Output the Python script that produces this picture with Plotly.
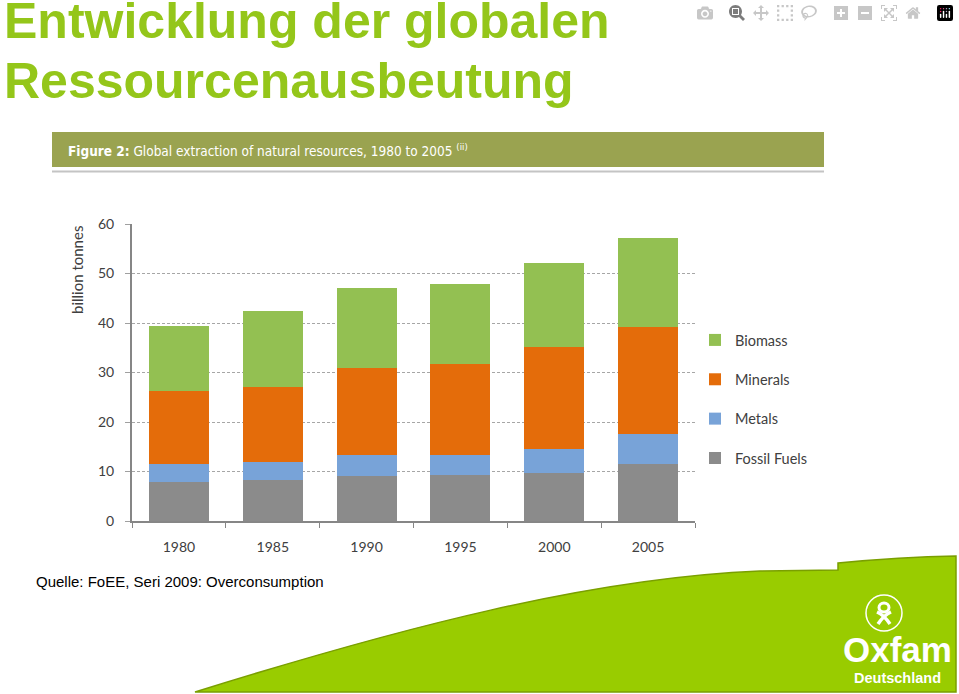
import plotly.graph_objects as go

# ---------------- data ----------------
years = ["1980", "1985", "1990", "1995", "2000", "2005"]
fossil_fuels = [7.9, 8.3, 9.1, 9.2, 9.7, 11.6]
metals = [3.7, 3.7, 4.3, 4.2, 4.9, 5.9]
minerals = [14.7, 15.0, 17.5, 18.4, 20.6, 21.6]
biomass = [13.1, 15.4, 16.1, 16.1, 16.9, 18.0]
series_names = ["Fossil Fuels", "Metals", "Minerals", "Biomass"]
legend_ranks = [4, 3, 2, 1]
y_ticks = [0, 10, 20, 30, 40, 50, 60]

title_lines = ["Entwicklung der globalen", "Ressourcenausbeutung"]
header_text = "<b>Figure 2:</b> Global extraction of natural resources, 1980 to 2005 <sup>(ii)</sup>"
y_title = "billion tonnes"
source_text = "Quelle: FoEE, Seri 2009: Overconsumption"
logo_lines = ["Oxfam", "Deutschland"]

# ---------------- styling ----------------
W, H = 959, 694
colors = ["#8b8b8b", "#78a3d8", "#e46c0a", "#93c052"]
GREEN = "#99cc00"
TITLE_GREEN = "#94c61a"
TXT = "#404040"
CHART_FONT = "Lato"


def px(x):
    return x / W


def py(y):
    return 1 - y / H


def path(cmds):
    out = []
    for c in cmds:
        if c == "Z":
            out.append("Z")
            continue
        letter, pts = c[0], c[1:]
        out.append(letter + " ".join(f"{px(x):.5f},{py(y):.5f}" for x, y in pts))
    return " ".join(out)


fig = go.Figure()
for name, vals, col, rank in zip(series_names, [fossil_fuels, metals, minerals, biomass], colors, legend_ranks):
    fig.add_trace(go.Bar(
        x=years, y=vals, name=name, marker=dict(color=col, line=dict(width=0)),
        legendgroup=name, legendrank=rank,
    ))

shapes = []
shapes.append(dict(type="rect", xref="paper", yref="paper", x0=px(52), x1=px(824),
                   y0=py(167), y1=py(132), fillcolor="#9aa350", line=dict(width=0), layer="below"))
shapes.append(dict(type="line", xref="paper", yref="paper", x0=px(52), x1=px(824),
                   y0=py(171.5), y1=py(171.5), line=dict(color="#c4c4c4", width=2), layer="below"))

swoosh = path([
    ("M", (195, 692)),
    ("C", (400, 628), (590, 578), (760, 571)),
    ("L", (838, 570)),
    ("L", (838, 563)),
    ("Q", (900, 557), (956, 556)),
    ("L", (956, 692)),
    "Z",
])
shapes.append(dict(type="path", xref="paper", yref="paper", path=swoosh,
                   fillcolor=GREEN, line=dict(color="#7a9f00", width=1.5), layer="below"))

cx, cy, r = 884, 613, 18
shapes.append(dict(type="circle", xref="paper", yref="paper", x0=px(cx - r), x1=px(cx + r),
                   y0=py(cy + r), y1=py(cy - r), line=dict(color="white", width=1.5)))
shapes.append(dict(type="circle", xref="paper", yref="paper", x0=px(cx - 5), x1=px(cx + 5),
                   y0=py(cy - 1), y1=py(cy - 10), line=dict(color="white", width=3)))
shapes.append(dict(type="path", xref="paper", yref="paper",
                   path=path([("M", (cx - 7, cy - 1)), ("Q", (cx, cy + 2), (cx + 6, cy + 11))]),
                   line=dict(color="white", width=3.5)))
shapes.append(dict(type="path", xref="paper", yref="paper",
                   path=path([("M", (cx + 7, cy - 1)), ("Q", (cx, cy + 2), (cx - 6, cy + 11))]),
                   line=dict(color="white", width=3.5)))

TITLE_FONT = dict(family="Liberation Sans, Arial", size=50, color=TITLE_GREEN, weight="bold")
annotations = [
    dict(text=title_lines[0], x=px(2), y=py(21), xref="paper", yref="paper", xanchor="left",
         yanchor="middle", showarrow=False, font=TITLE_FONT),
    dict(text=title_lines[1], x=px(2), y=py(81), xref="paper", yref="paper", xanchor="left",
         yanchor="middle", showarrow=False, font=TITLE_FONT),
    dict(text=header_text, x=px(66), y=py(150), xref="paper", yref="paper", xanchor="left",
         yanchor="middle", showarrow=False,
         font=dict(family="DejaVu Sans Condensed, DejaVu Sans", size=13.5, color="white")),
    dict(text=y_title, x=px(77), y=py(270), xref="paper", yref="paper", xanchor="center",
         yanchor="middle", showarrow=False, textangle=-90,
         font=dict(family=CHART_FONT, size=15, color=TXT)),
    dict(text=source_text, x=px(34), y=py(581), xref="paper", yref="paper", xanchor="left",
         yanchor="middle", showarrow=False,
         font=dict(family="Liberation Sans, Arial", size=15, color="black")),
    dict(text=logo_lines[0], x=px(897), y=py(649.5), xref="paper", yref="paper", xanchor="center",
         yanchor="middle", showarrow=False, borderpad=0,
         font=dict(family="Liberation Sans, Arial", size=35, color="white", weight="bold")),
    dict(text=logo_lines[1], x=px(897), y=py(677.5), xref="paper", yref="paper", xanchor="center",
         yanchor="middle", showarrow=False, borderpad=0,
         font=dict(family="Liberation Sans, Arial", size=14.5, color="white", weight="bold")),
]

fig.update_layout(
    width=W, height=H,
    margin=dict(l=0, r=0, t=0, b=0, autoexpand=False),
    paper_bgcolor="white", plot_bgcolor="white",
    barmode="stack", bargap=0.36,
    font=dict(family=CHART_FONT, size=14, color=TXT),
    shapes=shapes, annotations=annotations,
    showlegend=True,
    legend=dict(x=px(695), y=py(324), xanchor="left", yanchor="top",
                traceorder="grouped", tracegroupgap=17.5,
                font=dict(family=CHART_FONT, size=14.5, color=TXT),
                bgcolor="rgba(0,0,0,0)"),
    xaxis=dict(domain=[px(132), px(695)], type="category", automargin=False,
               showline=True, linecolor="#868686", linewidth=1.5,
               ticks="outside", tickson="boundaries", ticklen=5, tickcolor="#868686",
               ticklabelstandoff=12, showgrid=False,
               tickfont=dict(family=CHART_FONT, size=14, color=TXT)),
    yaxis=dict(domain=[py(521), py(224)], range=[0, 60], tickvals=y_ticks, automargin=False,
               showline=True, linecolor="#868686", linewidth=2,
               ticks="outside", ticklen=5, tickcolor="#a0a0a0",
               showgrid=True, gridcolor="#a6a6a6", gridwidth=1, griddash="3px,2px",
               zeroline=False, ticklabelstandoff=8,
               tickfont=dict(family=CHART_FONT, size=14, color=TXT)),
)

fig.write_html(
    "out.html",
    post_script=(
        "document.body.style.margin='0';"
        "var d=document.getElementById('{plot_id}');"
        "d.style.position='fixed';d.style.top='0px';d.style.left='0px';"
    ),
)
